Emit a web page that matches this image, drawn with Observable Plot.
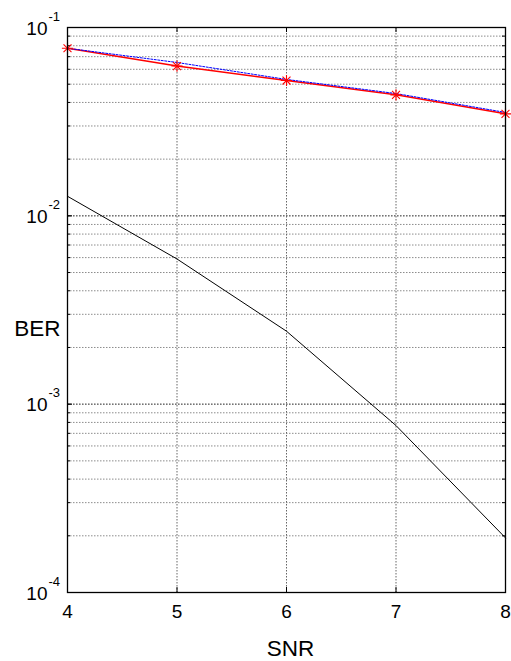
<!DOCTYPE html>
<html>
<head>
<meta charset="utf-8">
<script src="https://cdn.jsdelivr.net/npm/d3@7"></script>
<script src="https://cdn.jsdelivr.net/npm/@observablehq/plot@0.6"></script>
<style>
  html, body { margin: 0; padding: 0; background: #fff; }
  #chart svg { display: block; }
</style>
</head>
<body>
<div id="chart"></div>
<script>
// ---- data ----
const snr = [4, 5, 6, 7, 8];
const berRed = [0.0776, 0.0624, 0.0523, 0.0439, 0.0348];
const berBlue = [0.0776, 0.0652, 0.0530, 0.0446, 0.0354];
const berBlack = [0.0127, 0.0059, 0.00244, 0.00077, 0.000195];

const xTicks = [4, 5, 6, 7, 8];
const xGrid = [5, 6, 7];
const yDecades = [-4, -3, -2, -1];
const yBase = "10";
const minorMultipliers = [1, 2, 3, 4, 5, 6, 7, 8, 9];
const xLabel = "SNR";
const yLabel = "BER";

// ---- derived tables ----
const redData = snr.map((x, i) => ({x, y: berRed[i]}));
const blueData = snr.map((x, i) => ({x, y: berBlue[i]}));
const blackData = snr.map((x, i) => ({x, y: berBlack[i]}));
const yMajor = yDecades.map(d => Math.pow(10, d));
const yMinor = [];
yDecades.slice(0, -1).forEach(d => minorMultipliers.forEach(k => yMinor.push(k * Math.pow(10, d))));

const W = 511, H = 661;
const mL = 67, mR = 6, mT = 27, mB = 69;
const fw = W - mL - mR, fh = H - mT - mB;
const tickLen = 5;

const chart = Plot.plot({
  width: W, height: H,
  marginLeft: mL, marginRight: mR, marginTop: mT, marginBottom: mB,
  style: {fontFamily: "'Liberation Sans', Arial, sans-serif", background: "#fff", color: "#000"},
  x: {domain: [4, 8], axis: null},
  y: {type: "log", domain: [1e-4, 1e-1], axis: null},
  marks: [
    // grid
    Plot.ruleY(yMinor, {y: d => d, stroke: "#8c8c8c", strokeWidth: 1, strokeDasharray: "1.5,1.5"}),
    Plot.ruleY(yMajor, {y: d => d, stroke: "#555", strokeWidth: 1, strokeDasharray: "1.5,1.5"}),
    Plot.ruleX(xGrid, {x: d => d, stroke: "#666", strokeWidth: 1, strokeDasharray: "1.5,1.5"}),
    // inward ticks
    Plot.tickX(xTicks, {x: d => d, insetTop: fh - tickLen, stroke: "#000"}),
    Plot.tickX(xTicks, {x: d => d, insetBottom: fh - tickLen, stroke: "#000"}),
    Plot.tickY(yMinor, {y: d => d, insetRight: fw - 3, stroke: "#000"}),
    Plot.tickY(yMinor, {y: d => d, insetLeft: fw - 3, stroke: "#000"}),
    Plot.tickY(yMajor, {y: d => d, insetRight: fw - tickLen, stroke: "#000"}),
    Plot.tickY(yMajor, {y: d => d, insetLeft: fw - tickLen, stroke: "#000"}),
    // series
    Plot.line(blackData, {x: "x", y: "y", stroke: "#000", strokeWidth: 1}),
    Plot.line(redData, {x: "x", y: "y", stroke: "#ff0000", strokeWidth: 1.5}),
    Plot.line(blueData, {x: "x", y: "y", stroke: "#0000ff", strokeWidth: 1, strokeDasharray: "2,1.5"}),
    Plot.dot(redData, {x: "x", y: "y", symbol: "plus", r: 3.7, stroke: "#ff0000", strokeWidth: 1.1}),
    Plot.dot(redData, {x: "x", y: "y", symbol: "times", r: 3.7, stroke: "#ff0000", strokeWidth: 1.1}),
    // frame
    Plot.frame({stroke: "#000", strokeWidth: 1.3}),
    // tick labels
    Plot.text(xTicks, {x: d => d, text: d => String(d), frameAnchor: "bottom", lineAnchor: "bottom", dy: 25, fontSize: 19, fill: "#000"}),
    Plot.text(yMajor, {y: d => d, text: () => yBase, frameAnchor: "left", textAnchor: "end", lineAnchor: "bottom", dx: -20, dy: 7, fontSize: 19, fill: "#000"}),
    Plot.text(yDecades, {y: d => Math.pow(10, d), text: d => String(d), frameAnchor: "left", textAnchor: "start", lineAnchor: "bottom", dx: -19, dy: -7, fontSize: 13, fill: "#000"}),
    // axis titles
    Plot.text([xLabel], {x: 6, text: d => d, frameAnchor: "bottom", lineAnchor: "bottom", dx: 4, dy: 63, fontSize: 22.5, fill: "#000"}),
    Plot.text([yLabel], {text: d => d, frameAnchor: "left", textAnchor: "end", lineAnchor: "bottom", dx: -7, dy: 25.5, fontSize: 22.5, fill: "#000"})
  ]
});
document.getElementById("chart").appendChild(chart);
</script>
</body>
</html>
